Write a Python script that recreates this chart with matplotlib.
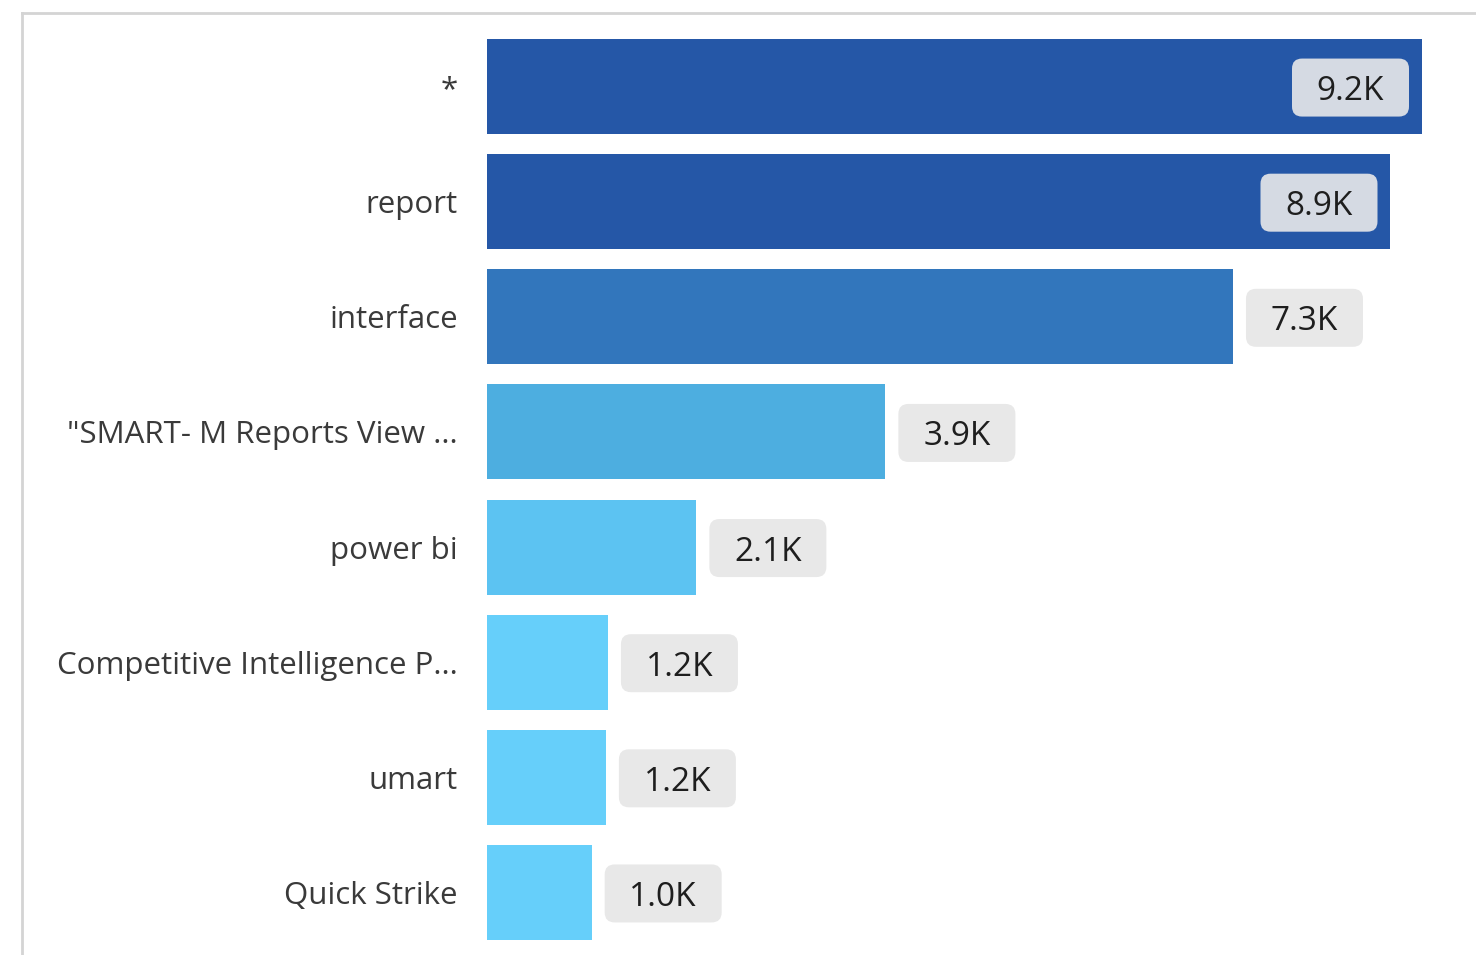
import matplotlib
matplotlib.use("Agg")
import matplotlib.pyplot as plt
from matplotlib.patches import FancyBboxPatch
from matplotlib.lines import Line2D
import matplotlib.transforms as mtransforms

categories = ["*", "report", "interface", "\"SMART- M Reports View ...",
              "power bi", "Competitive Intelligence P...", "umart", "Quick Strike"]
values = [9200, 8890, 7340, 3920, 2060, 1190, 1170, 1030]
value_labels = ["9.2K", "8.9K", "7.3K", "3.9K", "2.1K", "1.2K", "1.2K", "1.0K"]
bar_colors = ["#2557A7", "#2557A7", "#3276BC", "#4DAEE0", "#5CC3F2",
              "#66CFFA", "#66CFFA", "#66CFFA"]

FONT = ["Open Sans", "DejaVu Sans"]
W, H = 1476, 955
fig = plt.figure(figsize=(W / 100, H / 100), dpi=100)

# frame (cropped visual border)
fig.add_artist(Line2D([22 / W, 1.0], [1 - 13 / H, 1 - 13 / H], color="#D4D4D4", lw=2,
                      transform=fig.transFigure))
fig.add_artist(Line2D([22 / W, 22 / W], [1 - 13 / H, 0], color="#D4D4D4", lw=2,
                      transform=fig.transFigure))

ax_left, ax_right = 487, 1476
ax_top, ax_bot = 29, 950
ax = fig.add_axes([ax_left / W, 1 - ax_bot / H, (ax_right - ax_left) / W, (ax_bot - ax_top) / H])
px_per_unit = 935 / 9200
ax.set_xlim(0, (ax_right - ax_left) / px_per_unit)
ypos = list(range(len(categories)))
ax.set_ylim(len(categories) - 0.5, -0.5)

ax.barh(ypos, values, height=95 / 115, color=bar_colors)

ax.set_yticks(ypos)
ax.set_yticklabels(categories, fontsize=22.5, color="#3A3A3A", family=FONT)
ax.tick_params(axis="y", length=0, pad=21)
ax.set_xticks([])
for s in ax.spines.values():
    s.set_visible(False)

box_w, box_h, gap = 1.17, 0.58, 0.13
for y, v, lab in zip(ypos, values, value_labels):
    trans = fig.dpi_scale_trans + mtransforms.ScaledTranslation(v, y, ax.transData)
    end_px = v * px_per_unit
    inside = end_px + (gap + box_w) * 100 > (ax_right - ax_left)
    if inside:
        x0 = -gap - box_w
        fc = "#D5DAE3"
    else:
        x0 = gap
        fc = "#E8E8E8"
    patch = FancyBboxPatch((x0 + 0.1, -box_h / 2 - 0.01 + 0.1), box_w - 0.2, box_h - 0.2,
                           boxstyle="round,pad=0.1", fc=fc, ec="none",
                           transform=trans, clip_on=False)
    ax.add_patch(patch)
    ax.text(x0 + box_w / 2, -0.05, lab, transform=trans, ha="center", va="center",
            fontsize=24, color="#1E1E1E", family=FONT, clip_on=False)

fig.savefig("out.png", dpi=100)
